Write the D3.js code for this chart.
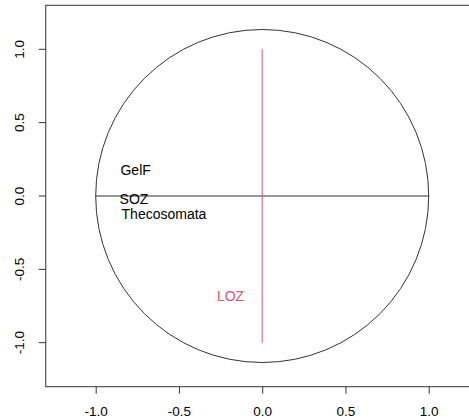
<!DOCTYPE html>
<html><head><meta charset="utf-8">
<script src="https://cdn.jsdelivr.net/npm/d3@7"></script>
<style>body{margin:0;background:#fff}svg{display:block}text{font-family:"Liberation Sans",Arial,sans-serif}</style>
</head><body><svg id="c" width="469" height="419"></svg>
<script>
const labels = ["GelF", "SOZ", "Thecosomata", "LOZ"];
const labelX = [-0.76, -0.77, -0.59, -0.19];
const labelY = [0.18, -0.02, -0.125, -0.68];
const labelColor = ["#000", "#000", "#000", "#DF536B"];
const xTicks = [-1.0, -0.5, 0.0, 0.5, 1.0];
const yTicks = [-1.0, -0.5, 0.0, 0.5, 1.0];
const hLine = [[-1, 0], [1, 0]];
const vLine = [[0, 1], [0, -1]];

const svg = d3.select("#c");
const x = d3.scaleLinear().domain([-1.3, 1.3]).range([45.75, 478.65]);
const y = d3.scaleLinear().domain([-1.3, 1.3]).range([386.7, 5.3]);
const fmt = d => d3.format(".1f")(d).replace("\u2212", "-");
const stroke = "#333";
const fs = 13.5;

// box
svg.append("rect").attr("x", x(-1.3)).attr("y", y(1.3))
  .attr("width", x(1.3) - x(-1.3)).attr("height", y(-1.3) - y(1.3))
  .attr("fill", "none").attr("stroke", stroke).attr("stroke-width", 1);

// axes
const xa = svg.append("g").attr("transform", `translate(0,${y(-1.3)})`)
  .call(d3.axisBottom(x).tickValues(xTicks).tickFormat(fmt).tickSize(7).tickPadding(13));
xa.select(".domain").remove();
xa.selectAll("line").attr("stroke", stroke);
xa.selectAll("text").attr("font-size", fs).attr("fill", "#000").attr("font-family", "Liberation Sans, Arial, sans-serif");

const ya = svg.append("g").attr("transform", `translate(${x(-1.3)},0)`)
  .call(d3.axisLeft(y).tickValues(yTicks).tickFormat(fmt).tickSize(7).tickPadding(14));
ya.select(".domain").remove();
ya.selectAll("line").attr("stroke", stroke);
ya.selectAll("text").attr("font-size", fs).attr("fill", "#000")
  .attr("font-family", "Liberation Sans, Arial, sans-serif")
  .attr("text-anchor", "middle").attr("dy", "0")
  .attr("transform", function(d){ return `translate(${-25},${y(d)}) rotate(-90)`; })
  .attr("x", 0).attr("y", 0).attr("dominant-baseline", "middle");
ya.selectAll(".tick").attr("transform", null);
ya.selectAll(".tick line").attr("transform", d => `translate(0,${y(d)})`);

// circle (true circle in pixels, radius = 1 in x units)
const r = x(1) - x(0);
svg.append("circle").attr("cx", x(0)).attr("cy", y(0)).attr("r", r)
  .attr("fill", "none").attr("stroke", stroke).attr("stroke-width", 1);

const line = d3.line().x(d => x(d[0])).y(d => y(d[1]));
svg.append("path").attr("d", line(hLine)).attr("stroke", stroke).attr("stroke-width", 1).attr("fill", "none");
svg.append("path").attr("d", line(vLine)).attr("stroke", "#DF536B").attr("stroke-width", 1).attr("fill", "none");

svg.selectAll("text.lab").data(labels).enter().append("text").attr("class", "lab")
  .attr("x", (d, i) => x(labelX[i])).attr("y", (d, i) => y(labelY[i]))
  .attr("text-anchor", "middle").attr("dominant-baseline", "central")
  .attr("font-size", 14).attr("fill", (d, i) => labelColor[i]).text(d => d);
</script></body></html>
